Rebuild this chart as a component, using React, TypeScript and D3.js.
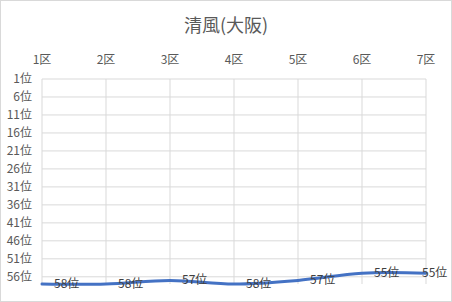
import React from "react";
import * as d3 from "d3";

const categories = ["1区", "2区", "3区", "4区", "5区", "6区", "7区"];
const ranks = [58, 58, 57, 58, 57, 55, 55];
const yTicks = [1, 6, 11, 16, 21, 26, 31, 36, 41, 46, 51, 56];
const title = "清風(大阪)";

const W = 452, H = 302;
const left = 42, right = 426, top = 79, bottom = 284;
const font = "'Noto Sans CJK JP', 'Noto Sans', sans-serif";

export default function App() {
  const x = d3.scalePoint<string>().domain(categories).range([left, right]);
  const y = d3.scaleLinear().domain([1, 58]).range([top, bottom]);
  const line = d3
    .line<number>()
    .x((_, i) => x(categories[i]) as number)
    .y((d) => y(d))
    .curve(d3.curveCatmullRom.alpha(0));

  return (
    <svg width={W} height={H} style={{ position: "absolute", left: 0, top: 0, background: "#fff" }}>
      <rect x={0.5} y={0.5} width={W - 1} height={H - 1} fill="#fff" stroke="#D9D9D9" />
      <text x={W / 2} y={32} textAnchor="middle" fontFamily={font} fontSize={18} fill="#595959">
        {title}
      </text>
      {yTicks.map((t) => (
        <line key={"h" + t} x1={left} x2={right} y1={y(t)} y2={y(t)} stroke="#D9D9D9" strokeWidth={1} />
      ))}
      {categories.map((c) => (
        <line key={"v" + c} x1={x(c)} x2={x(c)} y1={top} y2={bottom} stroke="#D9D9D9" strokeWidth={1} />
      ))}
      {categories.map((c) => (
        <text key={"xl" + c} x={x(c)} y={64} textAnchor="middle" fontFamily={font} fontSize={12} fill="#595959">
          {c}
        </text>
      ))}
      {yTicks.map((t) => (
        <text key={"yl" + t} x={32} y={y(t) + 4} textAnchor="end" fontFamily={font} fontSize={12} fill="#595959">
          {t + "位"}
        </text>
      ))}
      <path d={line(ranks) || ""} fill="none" stroke="#4472C4" strokeWidth={3} strokeLinecap="round" />
      {ranks.map((r, i) => {
        const px = x(categories[i]) as number;
        const lx = Math.min(px + 12, W - 30);
        return (
          <text key={"dl" + i} x={lx} y={y(r) + 4} fontFamily={font} fontSize={12} fill="#404040">
            {r + "位"}
          </text>
        );
      })}
    </svg>
  );
}
